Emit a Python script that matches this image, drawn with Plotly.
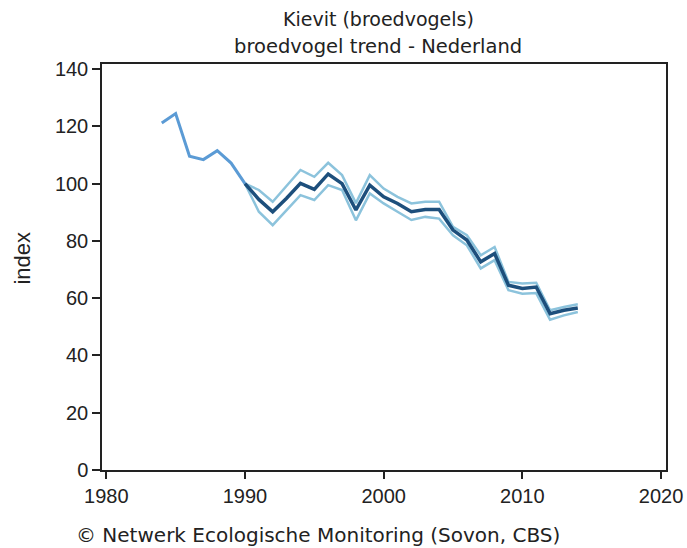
import plotly.graph_objects as go

# Data
years_early = [1984, 1985, 1986, 1987, 1988, 1989, 1990]
index_early = [121.2, 124.5, 109.6, 108.4, 111.5, 107.2, 100]

years = list(range(1990, 2015))
index_mid = [100, 94.5, 90.2, 94.9, 100.1, 98.0, 103.4, 100.0, 90.8, 99.5, 95.4, 93.1, 90.2,
             91.0, 91.0, 83.8, 80.3, 72.7, 75.6, 64.5, 63.4, 63.9, 54.6, 55.8, 56.6]
index_upper = [100, 97.8, 93.7, 99.2, 104.8, 102.4, 107.3, 103.0, 93.2, 103.0, 98.3, 95.4, 93.1,
               93.7, 93.7, 84.9, 82.0, 75.0, 77.9, 65.7, 65.1, 65.4, 55.8, 56.9, 57.9]
index_lower = [100, 90.2, 85.5, 90.8, 96.0, 94.3, 99.5, 97.8, 87.2, 96.6, 93.1, 90.2, 87.3,
               88.4, 87.8, 82.0, 78.5, 70.4, 73.3, 62.8, 61.6, 61.8, 52.5, 54.0, 55.2]

x_ticks = [1980, 1990, 2000, 2010, 2020]
y_ticks = [0, 20, 40, 60, 80, 100, 120, 140]

title1 = "Kievit (broedvogels)"
title2 = "broedvogel trend - Nederland"
y_title = "index"
footer = "© Netwerk Ecologische Monitoring (Sovon, CBS)"

band_color = "#8cc3dc"
mid_color = "#1d4f7c"
early_color = "#5b9bd5"

fig = go.Figure()
fig.add_trace(go.Scatter(x=years, y=index_upper, mode="lines",
                         line=dict(color=band_color, width=2.5), showlegend=False))
fig.add_trace(go.Scatter(x=years, y=index_lower, mode="lines",
                         line=dict(color=band_color, width=2.5), showlegend=False))
fig.add_trace(go.Scatter(x=years_early, y=index_early, mode="lines",
                         line=dict(color=early_color, width=3), showlegend=False))
fig.add_trace(go.Scatter(x=years, y=index_mid, mode="lines",
                         line=dict(color=mid_color, width=3.5), showlegend=False))

font_family = "Liberation Sans, Arial, sans-serif"
text_family = "DejaVu Sans, Verdana, sans-serif"

fig.update_layout(
    width=687, height=548, autosize=False,
    margin=dict(l=102, r=21, t=64, b=78, autoexpand=False),
    paper_bgcolor="white", plot_bgcolor="white",
    font=dict(family=font_family, color="#222222"),
    xaxis=dict(range=[1979.69, 2020.36], tickvals=x_ticks, ticktext=[str(v) for v in x_ticks],
               showline=True, mirror=True, linecolor="#222222", linewidth=1.5,
               ticks="outside", ticklen=7, tickwidth=1.5, tickcolor="#222222",
               showgrid=False, zeroline=False, tickfont=dict(size=20), automargin=False),
    yaxis=dict(range=[0, 141.8], tickvals=y_ticks, ticktext=[str(v) for v in y_ticks],
               showline=True, mirror=True, linecolor="#222222", linewidth=1.5,
               ticks="outside", ticklen=8, tickwidth=1.5, tickcolor="#222222",
               showgrid=False, zeroline=False, tickfont=dict(size=20), automargin=False),
    annotations=[
        dict(text=title1, xref="paper", yref="paper", x=0.49, y=1.111,
             xanchor="center", yanchor="middle", showarrow=False,
             font=dict(size=19, family=text_family)),
        dict(text=title2, xref="paper", yref="paper", x=0.49, y=1.042,
             xanchor="center", yanchor="middle", showarrow=False,
             font=dict(size=19.5, family=text_family)),
        dict(text=y_title, xref="paper", yref="paper", x=-0.141, y=0.522, textangle=-90,
             xanchor="center", yanchor="middle", showarrow=False, font=dict(size=22)),
        dict(text=footer, xref="paper", yref="paper", x=-0.050, y=-0.160,
             xanchor="left", yanchor="middle", showarrow=False,
             font=dict(size=20, family=text_family)),
    ],
)

fig.write_html("out.html", config={"displayModeBar": False, "responsive": False},
               post_script="document.body.style.margin='0';document.body.style.overflow='hidden';")
